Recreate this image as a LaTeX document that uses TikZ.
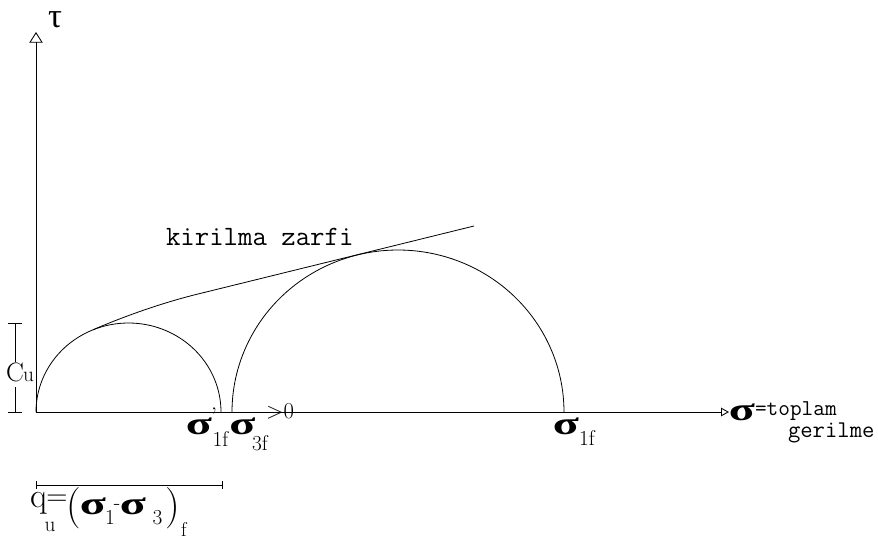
\documentclass[tikz,border=0pt]{standalone}
\usepackage{graphicx}
\usepackage{fontspec}
\newfontfamily\grkfont{Liberation Serif}
\usetikzlibrary{arrows.meta}
\newcommand\bsig{\scalebox{1.5}[1]{\grkfont\bfseries σ}}
\tikzset{
  lbl/.style={inner sep=0pt, outer sep=0pt},
  sigf/.style={lbl, font=\fontsize{24}{25}\selectfont},
  subf/.style={lbl, font=\fontsize{16}{17}\selectfont},
  ttlbl/.style={lbl, font=\ttfamily\fontsize{17}{18}\selectfont, anchor=base west},
  curve/.style={line width=0.6pt},
  axis/.style={line width=0.65pt}
}
\begin{document}
\begin{tikzpicture}[x=0.75pt,y=-0.75pt]
\useasboundingbox (0,0) rectangle (878,540);
% axes
\coordinate (O) at (36,412);
\coordinate (ytip) at (36,32);
\coordinate (xtip) at (729,412);
\draw[axis,-{Triangle[open,length=8pt,width=10pt]}] (O) -- (ytip);
\draw[axis,-{Triangle[open,length=6pt,width=6.5pt]}] (O) -- (xtip);
\node[lbl, font=\grkfont\fontsize{26}{28}\selectfont] (tau) at (55,20) {τ};
% Mohr circles
\draw[curve] plot[smooth,domain=0:180,samples=91,variable=\t] ({128.5+92.5*cos(\t)},{412-89*sin(\t)});
\draw[curve] plot[smooth,domain=0:180,samples=121,variable=\t] ({398+166*cos(\t)},{412-162*sin(\t)});
% failure envelope
\coordinate (e0) at (93,329.8);
\coordinate (e1) at (198,294);
\coordinate (e2) at (474,226);
\draw[curve] (e0) .. controls (120,318) and (160,303.3) .. (e1) -- (e2);
\node[lbl, font=\ttfamily\fontsize{21}{23}\selectfont, anchor=base west] (zarf) at (166,245) {kirilma zarfi};
% c_u marker
\coordinate (cuT) at (15,323);
\coordinate (cuB) at (15,412);
\coordinate (cuT1) at (15,362);
\coordinate (cuB1) at (15,387);
\coordinate (cuTl) at (8,323);
\coordinate (cuTr) at (22,323);
\coordinate (cuBl) at (8,412);
\coordinate (cuBr) at (22,412);
\draw[curve] (cuTl) -- (cuTr);
\draw[curve] (cuBl) -- (cuBr);
\draw[curve] (cuT) -- (cuT1);
\draw[curve] (cuB1) -- (cuB);
\node[lbl, font=\fontsize{20}{21}\selectfont] (cuC) at (15,372.5) {C};
\node[lbl, font=\fontsize{16}{17}\selectfont] (cuU) at (28.5,376.5) {u};
% sigma labels on axis
\node[sigf] (s1p) at (199,426) {\bsig};
\node[lbl, font=\fontsize{18}{19}\selectfont] (s1pr) at (214,416) {'};
\node[subf] (s1psub) at (220.5,439.5) {1f};
\node[sigf] (s3) at (242.5,426) {\bsig};
\node[subf] (s3sub) at (260,443) {3f};
\node[lbl, font=\fontsize{17}{18}\selectfont] (s3gt) at (280,411) {$>$0};
\node[sigf] (s1) at (566,426) {\bsig};
\node[subf] (s1sub) at (587,438) {1f};
% sigma axis label
\node[sigf] (sax) at (742,412) {\bsig};
\node[ttlbl] (top) at (755,415) {=toplam};
\node[ttlbl, font=\ttfamily\fontsize{18}{19}\selectfont] (ger) at (788,437) {gerilme};
% q_u marker
\coordinate (qL) at (36,485);
\coordinate (qR) at (222,485);
\coordinate (qLt) at (36,481);
\coordinate (qLb) at (36,489);
\coordinate (qRt) at (222,481);
\coordinate (qRb) at (222,489);
\draw[curve] (qL) -- (qR);
\draw[curve] (qLt) -- (qLb);
\draw[curve] (qRt) -- (qRb);
\node[lbl, font=\fontsize{26}{27}\selectfont, anchor=base west] (qq) at (30,507) {q};
\node[lbl, font=\fontsize{16}{17}\selectfont, anchor=base west] (qu) at (44.5,531) {u};
\node[lbl, font=\fontsize{22}{23}\selectfont] (qeq) at (57,500) {=};
\node[lbl, font=\fontsize{31}{33}\selectfont] (qlp) at (74,508) {(};
\node[sigf] (qs1) at (93,506) {\bsig};
\node[subf] (qs1sub) at (110,517.5) {1};
\node[subf] (qminus) at (117,507) {-};
\node[sigf] (qs3) at (133,506) {\bsig};
\node[subf] (qs3sub) at (157.5,517.5) {3};
\node[lbl, font=\fontsize{31}{33}\selectfont] (qrp) at (173,508) {)};
\node[lbl, font=\fontsize{15}{16}\selectfont] (qf) at (184,529) {f};
\end{tikzpicture}
\end{document}
